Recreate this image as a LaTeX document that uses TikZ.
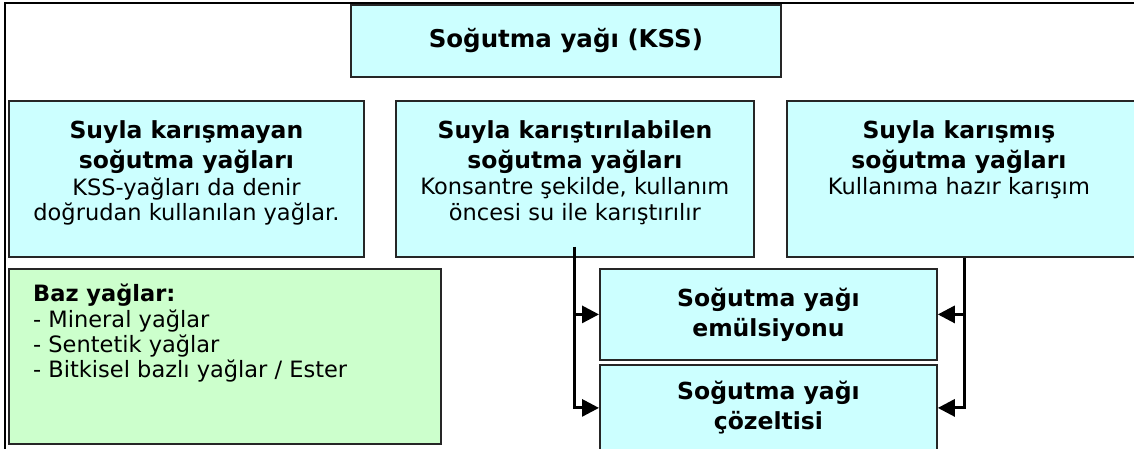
\documentclass[tikz,border=0pt]{standalone}
\usepackage{fontspec}
\setmainfont{DejaVu Sans}
\usetikzlibrary{arrows.meta}
\usetikzlibrary{positioning}

\definecolor{kssblue}{HTML}{CCFFFF}
\definecolor{kssgreen}{HTML}{CCFFCC}

\begin{document}
\begin{tikzpicture}[x=1pt, y=-1pt,
    box/.style={draw=black!85, line width=1.8pt, fill=kssblue, inner sep=0pt, anchor=north west},
    basebox/.style={box, fill=kssgreen},
    head/.style={align=center, inner sep=0pt, font=\fontsize{23.5}{30}\selectfont\bfseries},
    note/.style={align=center, inner sep=0pt, font=\fontsize{22.5}{25.5}\selectfont},
    link/.style={line width=3pt, -{Triangle[length=17pt, width=17pt]}}]

\clip (0,0) rectangle (1134,448);

% Frame
\draw[line width=1.8pt] (5,3) rectangle (1160,470);

% Title
\node[box, minimum width=430pt, minimum height=72pt, font=\fontsize{24.5}{30}\selectfont\bfseries] (kss) at (350,4) {Soğutma yağı (KSS)};

% Groups
\node[box, minimum width=355pt, minimum height=156pt] (nonmix) at (8,100) {};
\node[box, minimum width=358pt, minimum height=156pt] (mixable) at (395,100) {};
\node[box, minimum width=356pt, minimum height=156pt] (ready) at (786,100) {};

\node[head, below=20pt of nonmix.north] (nonmixhead) {Suyla karışmayan\\soğutma yağları};
\node[note, below=4pt of nonmixhead] (nonmixnote) {KSS-yağları da denir\\doğrudan kullanılan yağlar.};

\node[head, below=20pt of mixable.north] (mixablehead) {Suyla karıştırılabilen\\soğutma yağları};
\node[note, below=4pt of mixablehead] (mixablenote) {Konsantre şekilde, kullanım\\öncesi su ile karıştırılır};

\node[head, below=20pt of ready.north, xshift=-6pt] (readyhead) {Suyla karışmış\\soğutma yağları};
\node[note, below=4pt of readyhead] (readynote) {Kullanıma hazır karışım};

% Base oils
\node[basebox, minimum width=432pt, minimum height=175pt] (base) at (8,268) {};
\node[anchor=north west, align=left, inner sep=0pt, font=\fontsize{22.5}{25.3}\selectfont] (basetxt)
    at ([xshift=25pt, yshift=-16pt]base.north west)
    {\textbf{Baz yağlar:}\\- Mineral yağlar\\- Sentetik yağlar\\- Bitkisel bazlı yağlar / Ester};

% Products
\node[box, minimum width=337pt, minimum height=91pt, head] (emul) at (599,268) {Soğutma yağı\\emülsiyonu};
\node[box, minimum width=337pt, minimum height=86pt, head] (sol) at (599,364) {Soğutma yağı\\çözeltisi};

% Connectors
\draw[link] ([yshift=11pt]mixable.south) |- (emul.west);
\draw[link] ([yshift=11pt]mixable.south) |- (sol.west);
\draw[link] (ready.south) |- (emul.east);
\draw[link] (ready.south) |- (sol.east);

\end{tikzpicture}
\end{document}
